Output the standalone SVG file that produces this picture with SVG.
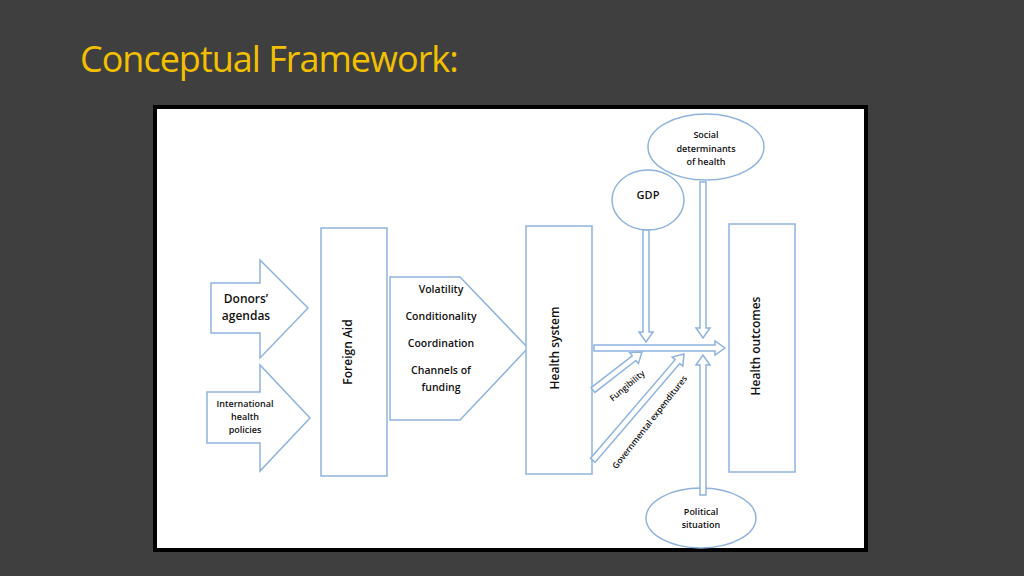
<svg xmlns="http://www.w3.org/2000/svg" width="1024" height="576" viewBox="0 0 1024 576">
<style>
.s{fill:#fff;stroke:#8fb3dd;stroke-width:1.5}
.t{font-family:"Open Sans",sans-serif;font-weight:600;fill:#111;text-anchor:middle}
</style>
<defs>
<polygon id="a" points="0,-3 -10,-3 -10,-7 0,0 -10,7 -10,3 0,3"/>
</defs>
<rect width="1024" height="576" fill="#3f3f3f"/>
<text x="80" y="72" font-family="'Open Sans',sans-serif" font-size="36" fill="#f2c000" letter-spacing="-1">Conceptual Framework:</text>
<rect x="155" y="107" width="711" height="443" fill="#fff" stroke="#000" stroke-width="4"/>
<g id="donors"><polygon class="s" points="211,283 260,283 260,260 308,308 260,358 260,333 211,333"/><text class="t" font-size="12"><tspan x="246" y="303">Donors’</tspan><tspan x="246" y="320">agendas</tspan></text></g>
<g id="intl"><polygon class="s" points="207,392 260,392 260,365 310,418 260,471 260,443 207,443"/><text class="t" font-size="9"><tspan x="245" y="407">International</tspan><tspan x="245" y="420">health</tspan><tspan x="245" y="433">policies</tspan></text></g>
<g id="aid"><rect class="s" x="321" y="228" width="66" height="248"/><text class="t" font-size="12" transform="translate(352,352) rotate(-90)">Foreign Aid</text></g>
<g id="factors"><polygon class="s" points="390,277 460,277 528,348 460,420 390,420"/><text class="t" font-size="10.5"><tspan x="441" y="293">Volatility</tspan><tspan x="441" y="320">Conditionality</tspan><tspan x="441" y="347">Coordination</tspan><tspan x="441" y="374">Channels of</tspan><tspan x="441" y="391">funding</tspan></text></g>
<g id="hs"><rect class="s" x="526" y="226" width="66" height="248"/><text class="t" font-size="12" transform="translate(559,348) rotate(-90)">Health system</text></g>
<g id="ho"><rect class="s" x="729" y="224" width="66" height="248"/><text class="t" font-size="12" transform="translate(760,346) rotate(-90)">Health outcomes</text></g>
<g id="social"><ellipse class="s" cx="706" cy="147" rx="58" ry="33"/><text class="t" font-size="9"><tspan x="706" y="138">Social</tspan><tspan x="706" y="152">determinants</tspan><tspan x="706" y="165">of health</tspan></text></g>
<g id="gdp"><ellipse class="s" cx="648" cy="200" rx="36" ry="30"/><text class="t" font-size="11" x="648" y="199">GDP</text></g>
<g id="pol"><ellipse class="s" cx="701" cy="518" rx="55" ry="30"/><text class="t" font-size="9"><tspan x="701" y="515">Political</tspan><tspan x="701" y="528">situation</tspan></text></g>
<g id="connectors">
<g transform="translate(725,348)"><polygon class="s" points="-131,-3 -10,-3 -10,-7 0,0 -10,7 -10,3 -131,3"/></g>
<g transform="translate(646,342) rotate(90)"><polygon class="s" points="-112,-3 -10,-3 -10,-7 0,0 -10,7 -10,3 -112,3"/></g>
<g transform="translate(703,338) rotate(90)"><polygon class="s" points="-156,-3 -10,-3 -10,-7 0,0 -10,7 -10,3 -156,3"/></g>
<g transform="translate(703,355) rotate(-90)"><polygon class="s" points="-140,-3 -10,-3 -10,-7 0,0 -10,7 -10,3 -140,3"/></g>
<g transform="translate(642,352) rotate(-37.8)"><polygon class="s" points="-62,-3 -10,-3 -10,-7 0,0 -10,7 -10,3 -62,3"/></g>
<g transform="translate(684,354) rotate(-49.4)"><polygon class="s" points="-140,-3 -10,-3 -10,-7 0,0 -10,7 -10,3 -140,3"/></g>
</g>
<text class="t" font-size="8.5" transform="translate(629,388) rotate(-40)">Fungibility</text>
<text class="t" font-size="8.5" transform="translate(652,424) rotate(-52)">Governmental expenditures</text>
</svg>
